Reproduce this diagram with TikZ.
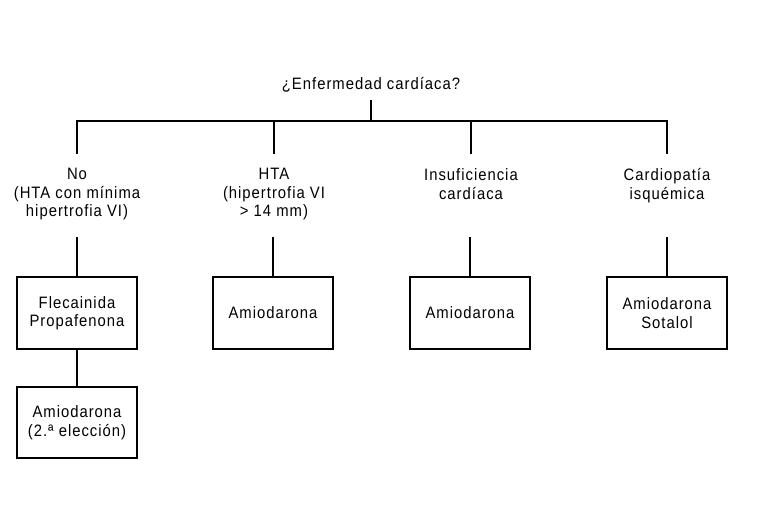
\documentclass[tikz,border=0pt]{standalone}
\usepackage{fontspec}
\setmainfont{Liberation Sans}[LetterSpace=6, FakeStretch=0.9]
\begin{document}
\begin{tikzpicture}[x=1pt, y=-1pt, line width=1.2pt, line cap=rect, line join=miter,
	texto/.style={inner sep=0pt, align=center, font=\fontsize{16.5}{18.5}\selectfont},
	etiq/.style={texto, anchor=north},
	caja/.style={texto, draw, minimum width=120pt, minimum height=72pt}]
	
	% Marco del dibujo
	\useasboundingbox (0,0) rectangle (778,508);
	
	% Pregunta inicial
	\node[texto] (preg) at (371,85) {¿Enfermedad cardíaca?};
	\coordinate (raiz) at (371,121);
	\draw[shorten <=8pt] (preg.south) -- (raiz);
	
	% Ramas
	\node[etiq] (no) at (77,168) {No\\(HTA con mínima\\hipertrofia VI)};
	\node[etiq] (hta) at (274,168) {HTA\\(hipertrofia VI\\> 14 mm)};
	\node[etiq] (ic) at (471,168) {Insuficiencia\\cardíaca};
	\node[etiq] (ci) at (667,168) {Cardiopatía\\isquémica};
	
	% Barra horizontal
	\draw (no.north |- raiz) -- (ci.north |- raiz);
	\foreach \n in {no,hta,ic,ci}
		\draw[shorten >=15pt] (\n.north |- raiz) -- (\n.north);
	
	% Tratamientos
	\node[caja] (c1) at (77,313) {Flecainida\\Propafenona};
	\node[caja] (c2) at (273,313) {Amiodarona};
	\node[caja] (c3) at (470,313) {Amiodarona};
	\node[caja] (c4) at (667,313) {Amiodarona\\Sotalol};
	\node[caja, minimum height=71pt] (c5) at (77,422.5) {Amiodarona\\(2.ª elección)};
	
	% Uniones etiqueta-caja
	\coordinate (t1) at (77,238);
	\coordinate (t2) at (273,238);
	\coordinate (t3) at (470,238);
	\coordinate (t4) at (667,238);
	\draw (t1) -- (c1.north);
	\draw (t2) -- (c2.north);
	\draw (t3) -- (c3.north);
	\draw (t4) -- (c4.north);
	\draw (c1.south) -- (c5.north);
	
\end{tikzpicture}
\end{document}
